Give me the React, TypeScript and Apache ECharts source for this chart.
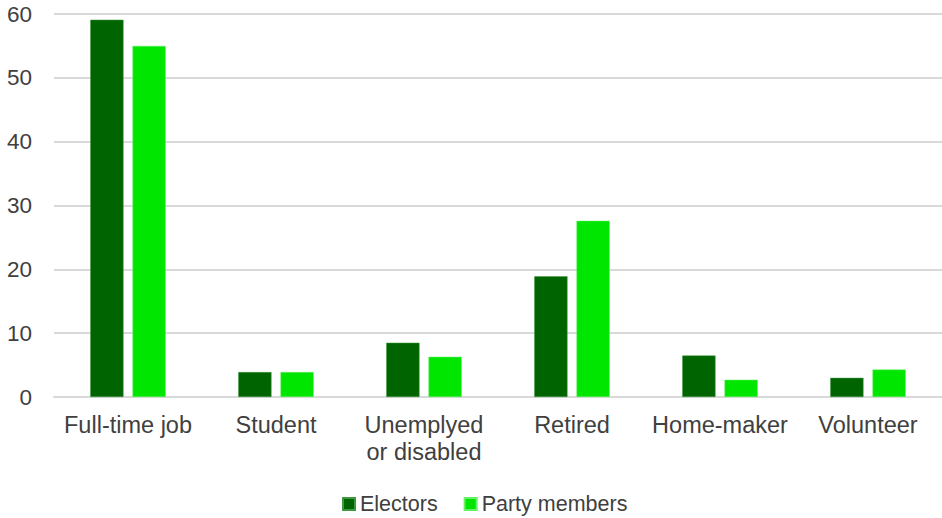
import React, { useEffect, useRef } from "react";
import * as echarts from "echarts";

const categories = ["Full-time job", "Student", "Unemplyed\nor disabled", "Retired", "Home-maker", "Volunteer"];
const electors = [59.1, 3.9, 8.5, 18.9, 6.5, 3.0];
const partyMembers = [55.0, 3.9, 6.3, 27.6, 2.7, 4.3];
const seriesNames = ["Electors", "Party members"];

export default function App() {
  const ref = useRef<HTMLDivElement>(null);
  useEffect(() => {
    if (!ref.current) return;
    const chart = echarts.init(ref.current, undefined, { renderer: "svg" });
    const font = "Liberation Sans, Arial, sans-serif";
    chart.setOption({
      animation: false,
      textStyle: { fontFamily: font },
      grid: { left: 54, right: 0, top: 14, bottom: 121, containLabel: false },
      legend: {
        top: 493,
        left: 342,
        padding: 0,
        itemWidth: 12,
        itemHeight: 12,
        itemGap: 26,
        icon: "rect",
        textStyle: { fontSize: 21.5, color: "#404040", fontFamily: font, padding: [0, 0, 0, 0] },
        data: seriesNames,
      },
      xAxis: {
        type: "category",
        data: categories,
        axisLine: { show: true, lineStyle: { color: "#d9d9d9", width: 2 } },
        axisTick: { show: false },
        axisLabel: { fontSize: 23.5, color: "#404040", margin: 14, lineHeight: 27, fontFamily: font, interval: 0 },
      },
      yAxis: {
        type: "value",
        min: 0,
        max: 60,
        interval: 10,
        axisLine: { show: false },
        axisTick: { show: false },
        splitLine: { lineStyle: { color: "#d9d9d9", width: 2 } },
        axisLabel: { fontSize: 22.5, color: "#404040", margin: 22, fontFamily: font },
      },
      series: [
        {
          name: seriesNames[0],
          type: "bar",
          data: electors,
          itemStyle: { color: "#006400", borderColor: "#3f9a3f", borderWidth: 0.5 },
          barGap: "27%",
          barCategoryGap: "49%",
        },
        {
          name: seriesNames[1],
          type: "bar",
          data: partyMembers,
          itemStyle: { color: "#00e600", borderColor: "#66f066", borderWidth: 0.5 },
          barGap: "27%",
          barCategoryGap: "49%",
        },
      ],
    });
    return () => chart.dispose();
  }, []);
  return <div ref={ref} style={{ width: 942, height: 518, position: "absolute", left: 0, top: 0 }} />;
}
